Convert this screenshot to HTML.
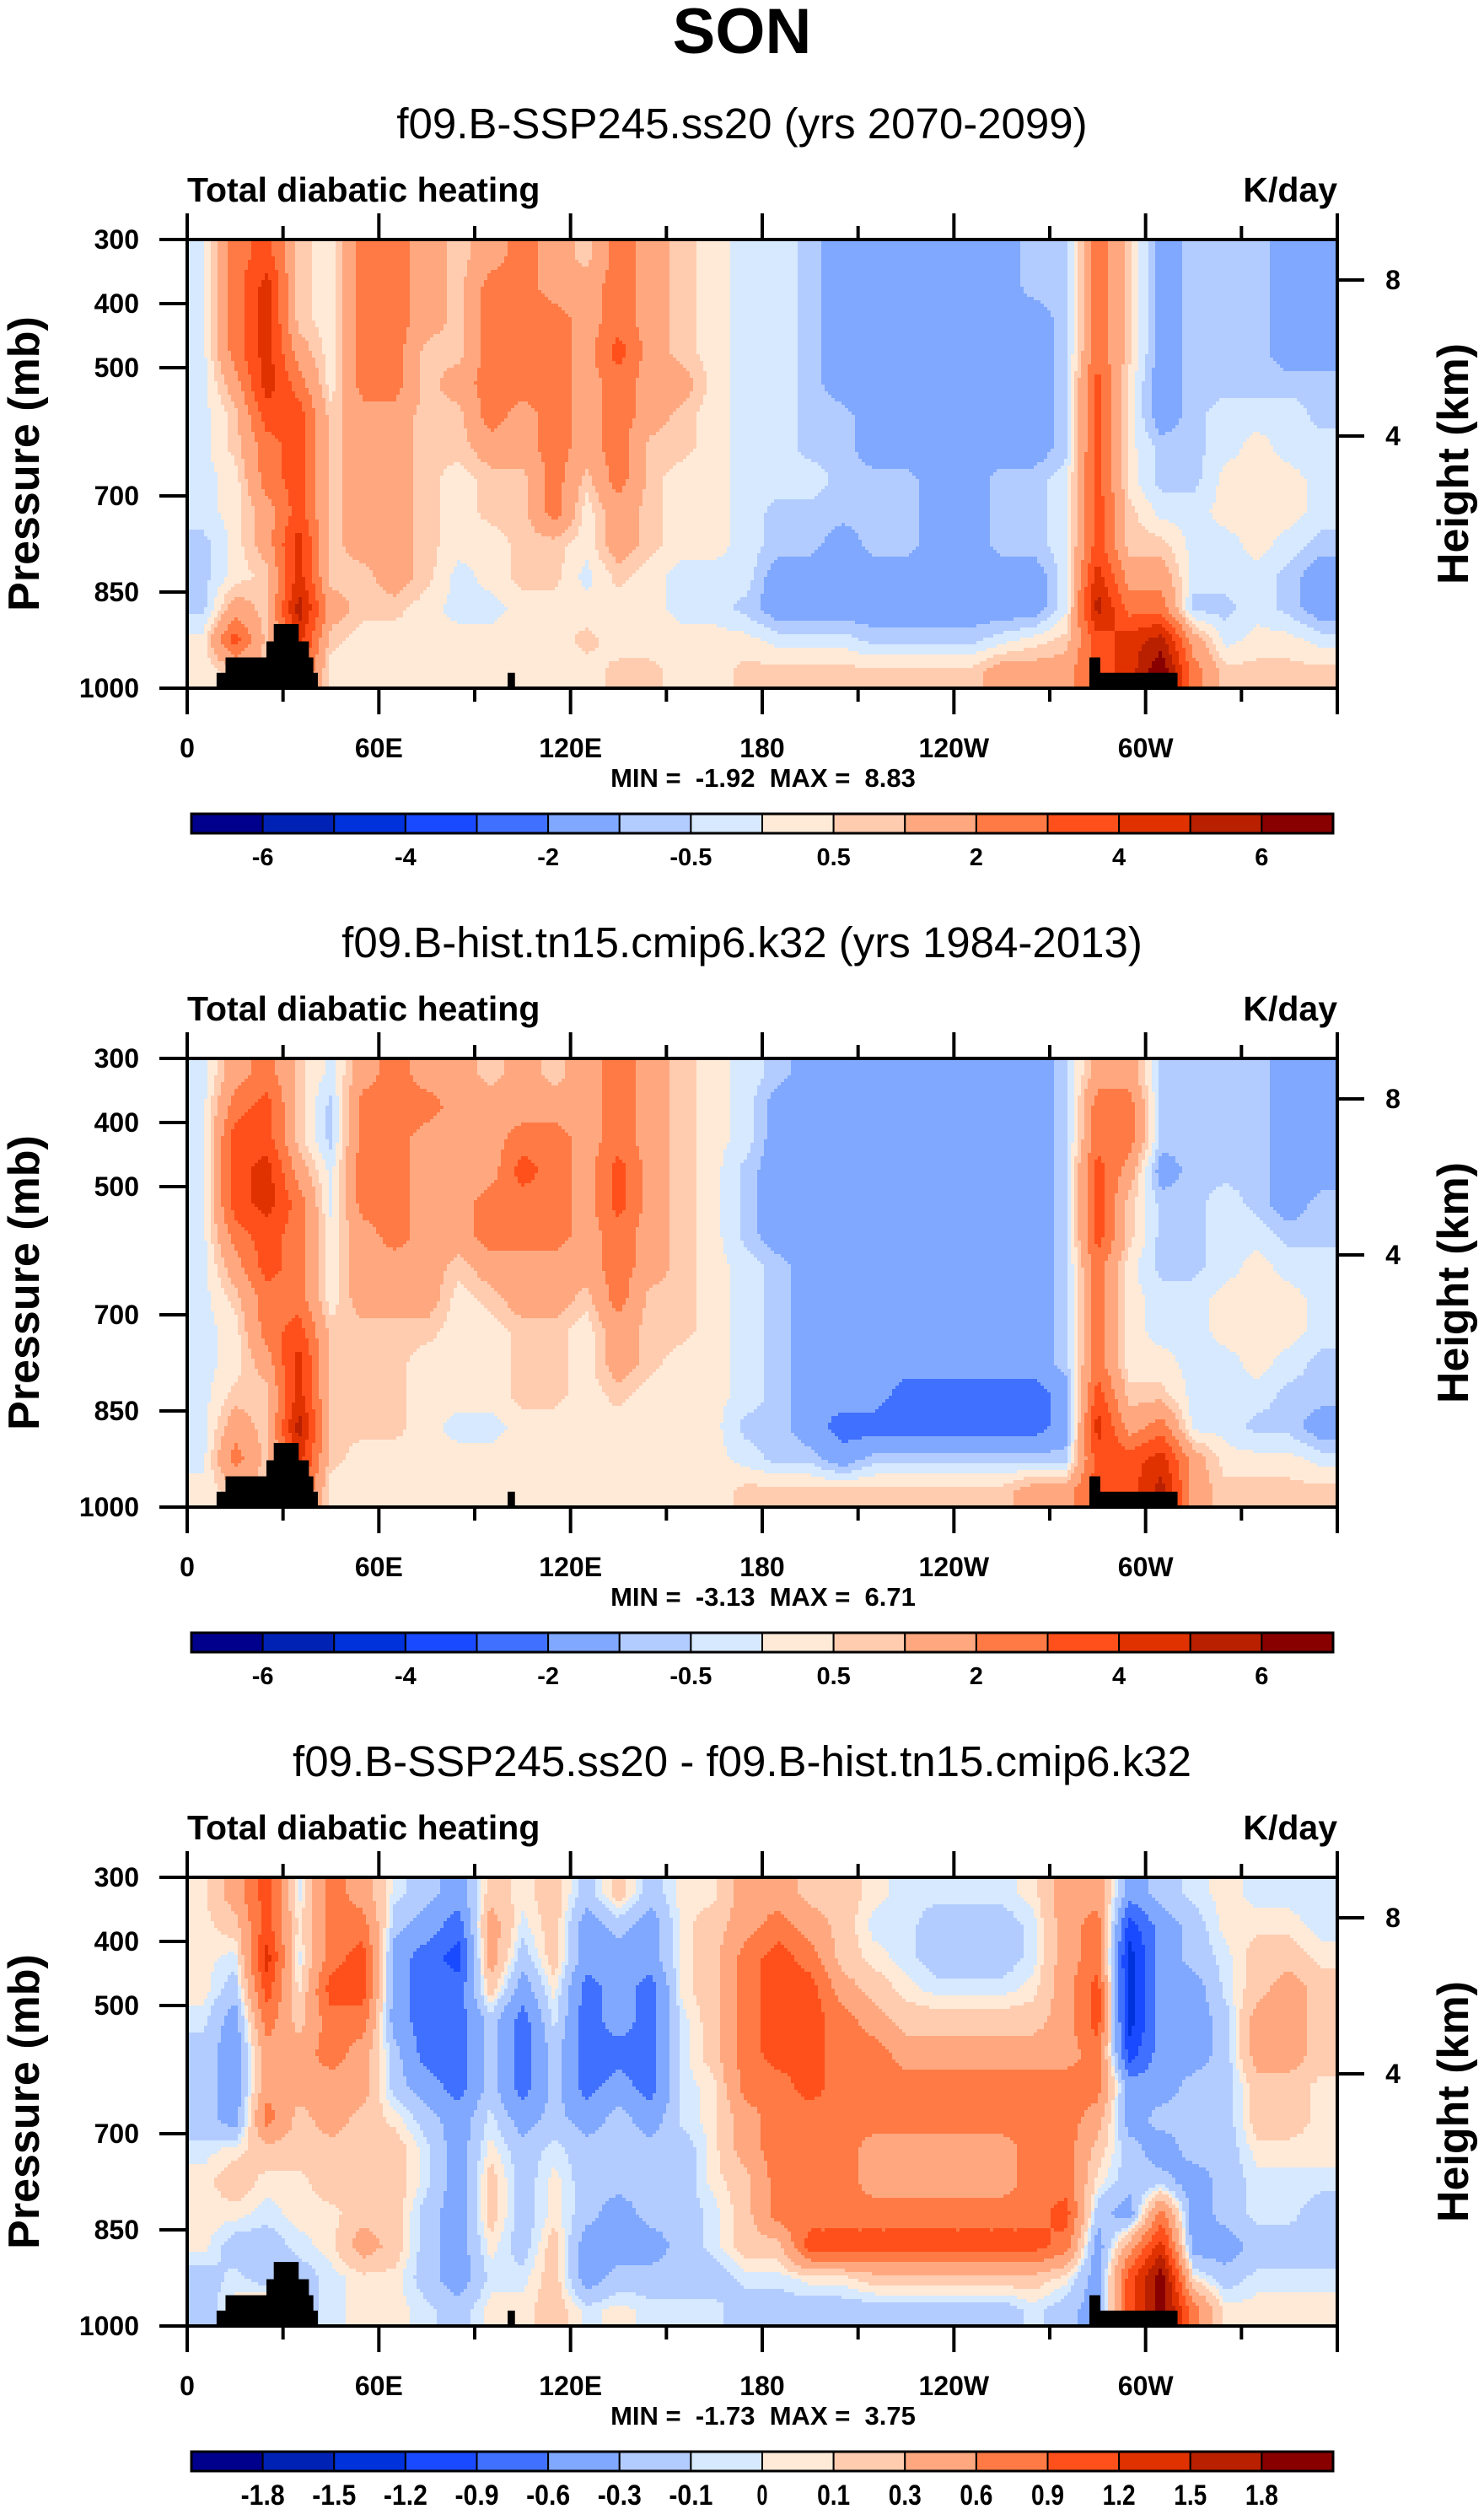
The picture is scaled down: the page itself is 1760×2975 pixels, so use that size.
<!DOCTYPE html>
<html><head><meta charset="utf-8">
<style>
html,body{margin:0;padding:0;background:#fff;}
svg{display:block;font-family:"Liberation Sans",sans-serif;}
.b{font-weight:bold;}
</style></head>
<body>
<svg id="fig" width="1760" height="2975" viewBox="0 0 1760 2975" xmlns="http://www.w3.org/2000/svg">
<rect x="0" y="0" width="1760" height="2975" fill="#fff"/>
<text x="880" y="63" text-anchor="middle" class="b" font-size="76">SON</text>
<g id="panels"></g>
</svg>
<script>
const lonCenters=[5,15,25,35,45,55,65,75,85,95,105,115,125,135,145,155,165,175,185,195,205,215,225,235,245,255,265,275,285,295,305,315,325,335,345,355];
const pressureLevels=[325,375,425,475,525,575,625,675,725,775,825,875,925,975];
const pressureTicks=[300,400,500,700,850,1000];
const heightTicks=[4,8];
const lonTicks=[0,60,120,180,240,300];
const lonTickLabels=["0","60E","120E","180","120W","60W"];
const levelsAbs=[-6,-5,-4,-3,-2,-1,-0.5,0,0.5,1,2,3,4,5,6];
const labelsAbs=["-6","-4","-2","-0.5","0.5","2","4","6"];
const levelsDiff=[-1.8,-1.5,-1.2,-0.9,-0.6,-0.3,-0.1,0,0.1,0.3,0.6,0.9,1.2,1.5,1.8];
const labelsDiff=["-1.8","-1.5","-1.2","-0.9","-0.6","-0.3","-0.1","0","0.1","0.3","0.6","0.9","1.2","1.5","1.8"];
const palette=["#00008c","#0022b4","#0032dc","#1a4aff","#4070ff","#80a8ff","#b3ccff","#d6e9ff","#ffead8","#ffccb0","#ffa880","#ff7a45","#ff501b","#e03200","#b82000","#880000"];
const topoLon0=[9.2,12,24.8,27.1,100.3,282.4,282.4];
const topoLon1=[40.9,39.5,38.1,34.9,102.6,310,285.8];
const topoPtop=[976,952,927,900,976,976,952];
const minMaxText=["MIN =  -1.92  MAX =  8.83","MIN =  -3.13  MAX =  6.71","MIN =  -1.73  MAX =  3.75"];
const subtitles=["f09.B-SSP245.ss20 (yrs 2070-2099)","f09.B-hist.tn15.cmip6.k32 (yrs 1984-2013)","f09.B-SSP245.ss20 - f09.B-hist.tn15.cmip6.k32"];

const heatingSSP245=[
[-0.2,-0.2,-0.2,-0.2,-0.2,-0.2,-0.2,-0.2,-0.2,-0.7,-0.7,-0.7,0.2,0.2],
[2.5,2.5,2.5,2.5,1.5,0.7,0.7,0.2,0.2,0.2,0.2,1.5,3.5,0.7],
[3.5,4.5,4.5,4.5,4.5,3.5,2.5,2.5,1.5,1.5,0.7,0.7,0.7,0.7],
[0.7,0.7,0.7,1.5,2.5,3.5,3.5,3.5,3.5,4.5,4.5,5.5,4.5,3.5],
[0.2,0.2,0.2,0.2,0.2,0.7,0.7,0.7,0.7,0.7,0.7,1.5,0.7,0.2],
[2.5,2.5,2.5,2.5,2.5,1.5,1.5,1.5,1.5,1.5,0.7,0.7,0.2,0.2],
[2.5,2.5,2.5,2.5,2.5,1.5,1.5,1.5,1.5,1.5,1.5,0.7,0.2,0.2],
[1.5,1.5,1.5,0.7,0.7,0.7,0.7,0.7,0.7,0.7,0.7,0.2,0.2,0.2],
[0.7,0.7,0.7,0.7,1.5,0.7,0.7,0.2,0.2,0.2,-0.2,-0.2,0.2,0.2],
[1.5,2.5,2.5,2.5,2.5,2.5,1.5,0.7,0.7,0.2,0.2,-0.2,0.2,0.2],
[2.5,2.5,2.5,2.5,2.5,1.5,1.5,0.7,0.7,0.7,0.7,0.2,0.2,0.2],
[1.5,1.5,2.5,2.5,2.5,2.5,2.5,2.5,2.5,0.7,0.7,0.2,0.2,0.2],
[0.7,1.5,1.5,1.5,1.5,1.5,1.5,0.7,0.2,0.2,-0.2,0.2,0.7,0.2],
[2.5,2.5,2.5,3.5,2.5,2.5,2.5,2.5,1.5,1.5,0.7,0.2,0.2,0.7],
[1.5,1.5,1.5,1.5,1.5,1.5,0.7,0.7,0.7,0.7,0.2,0.2,0.2,0.7],
[0.7,0.7,0.7,0.7,1.5,0.7,0.7,0.2,0.2,0.2,-0.2,-0.2,0.2,0.2],
[0.2,0.2,0.2,0.2,0.2,0.2,0.2,0.2,0.2,0.2,-0.2,-0.2,0.2,0.2],
[-0.2,-0.2,-0.2,-0.2,-0.2,-0.2,-0.2,-0.2,-0.2,-0.2,-0.2,-0.7,0.2,0.7],
[-0.2,-0.2,-0.2,-0.2,-0.2,-0.2,-0.2,-0.2,-0.7,-0.7,-1.5,-1.5,-0.2,0.7],
[-0.7,-0.7,-0.7,-0.7,-0.7,-0.7,-0.7,-0.2,-0.7,-0.7,-1.5,-1.5,-0.2,0.7],
[-1.5,-1.5,-1.5,-1.5,-1.5,-0.7,-0.7,-0.7,-0.7,-1.5,-1.5,-1.5,-0.2,0.7],
[-1.5,-1.5,-1.5,-1.5,-1.5,-1.5,-1.5,-0.7,-0.7,-0.7,-1.5,-1.5,-0.7,0.7],
[-1.5,-1.5,-1.5,-1.5,-1.5,-1.5,-1.5,-0.7,-0.7,-0.7,-1.5,-1.5,-0.7,0.7],
[-1.5,-1.5,-1.5,-1.5,-1.5,-1.5,-1.5,-1.5,-1.5,-1.5,-1.5,-1.5,-0.7,0.7],
[-1.5,-1.5,-1.5,-1.5,-1.5,-1.5,-1.5,-1.5,-1.5,-1.5,-1.5,-1.5,-0.7,0.7],
[-1.5,-1.5,-1.5,-1.5,-1.5,-1.5,-1.5,-0.7,-0.7,-0.7,-1.5,-1.5,-0.2,1.5],
[-0.7,-0.7,-1.5,-1.5,-1.5,-1.5,-1.5,-0.7,-0.7,-0.7,-1.5,-1.5,0.2,1.5],
[-0.7,-0.7,-0.7,-0.7,-0.7,-0.7,-0.7,-0.2,-0.2,-0.2,-0.2,-0.2,0.7,1.5],
[2.5,2.5,2.5,2.5,3.5,3.5,3.5,3.5,3.5,3.5,4.5,5.5,3.5,3.5],
[0.7,0.7,0.7,0.7,0.2,0.2,0.2,0.2,0.7,0.7,1.5,2.5,4.5,4.5],
[-1.5,-1.5,-1.5,-1.5,-1.5,-1.5,-0.7,-0.7,-0.2,0.7,1.5,2.5,5.5,7],
[-0.7,-0.7,-0.7,-0.7,-0.7,-0.7,-0.7,-0.7,-0.2,-0.2,-0.2,-0.7,1.5,2.5],
[-0.7,-0.7,-0.7,-0.7,-0.7,-0.2,-0.2,0.2,0.2,-0.2,-0.2,-0.7,-0.2,0.7],
[-0.7,-0.7,-0.7,-0.7,-0.7,-0.2,0.2,0.2,0.2,0.2,-0.2,-0.2,0.2,0.7],
[-1.5,-1.5,-1.5,-1.5,-0.7,-0.2,-0.2,0.2,0.2,-0.2,-0.7,-0.7,0.2,0.7],
[-1.5,-1.5,-1.5,-1.5,-0.7,-0.7,-0.2,-0.2,-0.2,-0.7,-1.5,-1.5,-0.2,0.7]];

const heatingHist=[
[-0.2,-0.2,-0.2,-0.2,-0.2,-0.2,-0.2,-0.2,-0.2,-0.2,-0.2,-0.2,-0.2,0.2],
[1.5,2.5,3.5,3.5,3.5,2.5,1.5,0.7,0.2,0.2,0.7,1.5,2.5,0.7],
[2.5,3.5,3.5,4.5,4.5,3.5,3.5,2.5,2.5,1.5,0.7,0.7,0.7,0.7],
[0.7,0.7,0.7,1.5,2.5,2.5,2.5,2.5,3.5,4.5,4.5,5.5,4.5,3.5],
[-0.2,-0.7,-0.7,-0.2,-0.2,0.2,0.2,0.2,0.7,0.7,0.7,0.7,0.7,0.2],
[1.5,2.5,2.5,2.5,2.5,1.5,1.5,1.5,0.7,0.7,0.7,0.7,0.2,0.2],
[2.5,2.5,2.5,2.5,2.5,2.5,1.5,1.5,0.7,0.7,0.7,0.7,0.2,0.2],
[1.5,2.5,1.5,1.5,1.5,1.5,1.5,1.5,0.7,0.2,0.2,0.2,0.2,0.2],
[1.5,1.5,1.5,1.5,1.5,1.5,0.7,0.2,0.2,0.2,0.2,-0.2,0.2,0.2],
[0.7,1.5,1.5,1.5,2.5,2.5,1.5,0.7,0.2,0.2,0.2,-0.2,0.2,0.2],
[1.5,1.5,2.5,3.5,2.5,2.5,1.5,1.5,0.7,0.7,0.7,0.2,0.2,0.2],
[0.7,1.5,2.5,2.5,2.5,2.5,1.5,1.5,0.7,0.7,0.7,0.2,0.2,0.2],
[1.5,1.5,1.5,1.5,1.5,1.5,1.5,0.7,0.2,0.2,0.2,0.2,0.2,0.2],
[2.5,2.5,2.5,3.5,3.5,2.5,2.5,2.5,1.5,1.5,0.7,0.2,0.2,0.2],
[1.5,1.5,1.5,1.5,1.5,1.5,1.5,0.7,0.7,0.7,0.2,0.2,0.2,0.2],
[0.7,0.7,0.7,0.7,0.7,0.7,0.7,0.7,0.7,0.2,0.2,0.2,0.2,0.2],
[0.2,0.2,0.2,0.2,0.2,0.2,0.2,0.2,0.2,0.2,0.2,0.2,0.2,0.2],
[-0.2,-0.2,-0.2,-0.7,-0.7,-0.7,-0.2,-0.2,-0.2,-0.2,-0.2,-0.7,-0.2,0.7],
[-0.7,-1.5,-1.5,-1.5,-1.5,-1.5,-0.7,-0.7,-0.7,-0.7,-0.7,-0.7,-0.7,0.7],
[-1.5,-1.5,-1.5,-1.5,-1.5,-1.5,-1.5,-1.5,-1.5,-1.5,-1.5,-1.5,-0.7,0.7],
[-1.5,-1.5,-1.5,-1.5,-1.5,-1.5,-1.5,-1.5,-1.5,-1.5,-1.5,-2.5,-1.5,0.7],
[-1.5,-1.5,-1.5,-1.5,-1.5,-1.5,-1.5,-1.5,-1.5,-1.5,-1.5,-2.5,-0.7,0.7],
[-1.5,-1.5,-1.5,-1.5,-1.5,-1.5,-1.5,-1.5,-1.5,-1.5,-2.5,-2.5,-0.7,0.7],
[-1.5,-1.5,-1.5,-1.5,-1.5,-1.5,-1.5,-1.5,-1.5,-1.5,-2.5,-2.5,-0.7,0.7],
[-1.5,-1.5,-1.5,-1.5,-1.5,-1.5,-1.5,-1.5,-1.5,-1.5,-2.5,-2.5,-0.7,0.7],
[-1.5,-1.5,-1.5,-1.5,-1.5,-1.5,-1.5,-1.5,-1.5,-1.5,-2.5,-2.5,-0.7,0.7],
[-1.5,-1.5,-1.5,-1.5,-1.5,-1.5,-1.5,-1.5,-1.5,-1.5,-2.5,-2.5,-0.7,1.5],
[-0.7,-0.7,-0.7,-0.7,-0.7,-0.7,-0.7,-0.7,-0.7,-0.7,-1.5,-1.5,-0.7,1.5],
[1.5,2.5,2.5,3.5,3.5,3.5,2.5,2.5,2.5,2.5,3.5,4.5,3.5,3.5],
[1.5,2.5,2.5,1.5,0.7,0.7,0.2,0.2,0.2,0.2,0.7,1.5,3.5,3.5],
[-0.7,-0.7,-0.7,-1.5,-0.7,-0.7,-0.7,-0.2,-0.2,0.2,0.7,2.5,4.5,5.5],
[-0.7,-0.7,-0.7,-0.7,-0.7,-0.7,-0.7,-0.2,-0.2,-0.2,-0.2,-0.2,1.5,1.5],
[-0.7,-0.7,-0.7,-0.7,-0.2,-0.2,-0.2,0.2,0.2,-0.2,-0.2,-0.2,0.2,0.7],
[-0.7,-0.7,-0.7,-0.7,-0.7,-0.2,0.2,0.2,0.2,0.2,-0.2,-0.7,0.2,0.7],
[-1.5,-1.5,-1.5,-1.5,-1.5,-0.7,-0.2,0.2,0.2,-0.2,-0.7,-0.7,0.2,0.7],
[-1.5,-1.5,-1.5,-1.5,-0.7,-0.7,-0.2,-0.2,-0.2,-0.7,-0.7,-1.5,-0.2,0.7]];

const heatingDiff=[
[0.05,0.05,0.05,0.05,-0.05,-0.2,-0.2,-0.2,-0.05,0.05,0.05,0.05,-0.2,-0.2],
[0.45,0.2,-0.05,-0.2,-0.45,-0.45,-0.45,-0.45,0.05,0.2,0.05,-0.2,-0.05,0.05],
[1.05,1.05,1.35,1.05,0.75,0.45,0.45,0.75,0.2,0.05,-0.05,-0.2,-0.2,0.2],
[-0.05,0.05,-0.05,0.05,0.2,0.45,0.45,0.2,0.2,0.05,0.05,-0.05,-0.2,-0.2],
[0.75,0.75,0.75,1.05,0.75,0.75,0.45,0.45,0.2,0.2,0.05,0.05,-0.05,-0.05],
[0.45,0.75,1.05,1.05,0.75,0.45,0.45,0.2,0.2,0.2,0.2,0.45,0.05,0.05],
[-0.05,-0.2,-0.45,-0.45,-0.45,-0.2,-0.2,0.05,0.2,0.2,0.2,0.2,0.05,0.05],
[-0.2,-0.45,-0.75,-0.75,-0.75,-0.75,-0.45,-0.2,-0.05,-0.05,-0.2,-0.2,-0.2,-0.05],
[-0.45,-0.75,-1.05,-0.75,-0.75,-0.75,-0.75,-0.45,-0.45,-0.45,-0.45,-0.45,-0.45,-0.2],
[0.2,0.45,0.45,0.2,-0.2,-0.2,-0.2,-0.05,0.05,0.2,0.2,0.05,-0.05,0.05],
[0.05,-0.05,-0.2,-0.45,-0.75,-0.75,-0.75,-0.45,-0.2,-0.2,-0.2,-0.2,-0.05,0.05],
[0.2,0.2,0.2,0.05,-0.05,-0.2,-0.2,-0.2,-0.05,0.05,0.05,0.2,0.2,0.2],
[-0.2,-0.45,-0.45,-0.75,-0.75,-0.75,-0.75,-0.45,-0.2,-0.2,-0.2,-0.45,-0.45,-0.05],
[0.2,-0.2,-0.45,-0.45,-0.45,-0.75,-0.45,-0.2,-0.2,-0.2,-0.45,-0.45,-0.2,0.05],
[-0.2,-0.45,-0.45,-0.75,-0.75,-0.75,-0.75,-0.45,-0.2,-0.2,-0.2,-0.45,-0.2,-0.05],
[0.05,0.05,0.05,0.05,-0.05,-0.05,-0.05,-0.05,-0.2,-0.2,-0.2,-0.2,-0.2,-0.05],
[0.05,0.2,0.2,0.2,0.2,0.2,0.05,0.05,0.05,0.05,-0.05,-0.05,-0.2,-0.05],
[0.45,0.45,0.75,0.75,0.75,0.75,0.75,0.45,0.45,0.2,0.2,0.2,-0.05,-0.2],
[0.45,0.75,1.05,1.05,1.05,1.05,0.75,0.75,0.75,0.75,0.75,0.2,-0.05,-0.2],
[0.2,0.45,0.75,1.05,1.05,1.05,1.05,0.75,0.75,0.75,0.75,1.05,0.05,-0.2],
[0.2,0.2,0.2,0.45,0.75,0.75,0.75,0.75,0.75,0.75,0.75,1.05,0.05,-0.2],
[0.05,-0.05,0.05,0.2,0.45,0.75,0.75,0.75,0.45,0.45,0.75,1.05,0.2,-0.2],
[-0.05,-0.05,-0.05,0.05,0.2,0.45,0.75,0.75,0.45,0.45,0.75,1.05,0.2,-0.2],
[-0.05,-0.2,-0.2,-0.05,0.2,0.45,0.75,0.75,0.45,0.45,0.75,1.05,0.2,-0.2],
[-0.05,-0.2,-0.2,-0.05,0.2,0.45,0.75,0.75,0.45,0.45,0.75,1.05,0.2,-0.2],
[-0.05,-0.2,-0.2,-0.05,0.2,0.45,0.75,0.75,0.45,0.45,0.75,1.05,0.2,-0.2],
[0.05,-0.05,-0.05,0.05,0.2,0.45,0.75,0.75,0.75,0.75,0.75,1.05,0.2,-0.05],
[0.45,0.45,0.45,0.45,0.45,0.45,0.75,0.75,0.75,0.75,1.05,0.75,0.05,-0.2],
[0.45,0.75,0.75,1.05,1.05,0.75,0.75,0.45,0.2,0.05,-0.2,-0.45,-0.45,-0.45],
[-0.45,-1.05,-1.35,-1.35,-1.35,-1.05,-0.45,-0.45,-0.2,-0.2,-0.45,0.45,1.05,1.05],
[-0.2,-0.45,-0.45,-0.45,-0.45,-0.45,-0.45,-0.2,-0.45,-0.2,0.75,1.35,2.0,2.0],
[-0.05,-0.2,-0.2,-0.45,-0.45,-0.45,-0.2,-0.2,-0.2,-0.45,-0.45,-0.45,0.05,0.75],
[0.05,0.05,-0.05,-0.05,-0.2,-0.2,-0.2,-0.2,-0.2,-0.2,-0.2,-0.45,-0.2,0.05],
[-0.05,0.05,0.2,0.2,0.45,0.45,0.2,0.2,0.05,-0.05,-0.05,-0.2,-0.05,0.05],
[-0.05,0.05,0.2,0.45,0.45,0.45,0.2,0.2,0.05,-0.05,-0.05,-0.2,-0.05,0.05],
[-0.05,-0.05,0.05,0.2,0.2,0.2,0.05,0.05,0.05,-0.05,-0.2,-0.2,-0.05,0.05]];

const NS="http://www.w3.org/2000/svg";
const PX0=222, PX1=1586, PW=PX1-PX0, PH=532;
const panelTops=[284,1255,2226];
function mk(tag,attrs,parent,txt){const e=document.createElementNS(NS,tag);for(const k in attrs)e.setAttribute(k,attrs[k]);if(txt!==undefined)e.textContent=txt;parent.appendChild(e);return e;}
function xOf(lon){return PX0+lon/360*PW;}
function yOf(p,top){return top+(p-300)/700*PH;}
function pOfKm(z){return 1013*Math.exp(-z/7.8);}
function sample(data,lon,p){
  let fi=(lon-lonCenters[0])/10; fi=Math.max(0,Math.min(lonCenters.length-1,fi));
  let fj=(p-pressureLevels[0])/50; fj=Math.max(0,Math.min(pressureLevels.length-1,fj));
  const i0=Math.floor(fi),i1=Math.min(i0+1,lonCenters.length-1),ti=fi-i0;
  const j0=Math.floor(fj),j1=Math.min(j0+1,pressureLevels.length-1),tj=fj-j0;
  const a=data[i0][j0]*(1-tj)+data[i0][j1]*tj, b=data[i1][j0]*(1-tj)+data[i1][j1]*tj;
  return a*(1-ti)+b*ti;
}
function classify(v,levels){let c=0;for(const l of levels){if(v>=l)c++;}return c;}

const root=document.getElementById('panels');
const datasets=[heatingSSP245,heatingHist,heatingDiff];
const levelSets=[levelsAbs,levelsAbs,levelsDiff];

for(let k=0;k<3;k++){
  const top=panelTops[k], bot=top+PH, off=971*k;
  const g=mk('g',{},root);
  
  
  const st=mk('text',{x:880,y:164+off,'text-anchor':'middle','font-size':51},g,subtitles[k]);
  
  
  const lt=mk('text',{x:PX0,y:239+off,'font-size':41,'class':'b'},g,'Total diabatic heating');
  
  
  const ut=mk('text',{x:PX1,y:239+off,'font-size':41,'class':'b','text-anchor':'end'},g,'K/day');
  
  

  const field=mk('g',{'shape-rendering':'crispEdges'},g);
  
  
  const step=4, data=datasets[k], levels=levelSets[k];
  for(let py=0;py<PH;py+=step){
    const h=Math.min(step,PH-py), p=300+(py+h/2)/PH*700;
    let rs=0, rc=-1;
    for(let px=0;;px+=step){
      let c=-2;
      const done=px>=PW;
      if(!done){const w=Math.min(step,PW-px);const lon=(px+w/2)/PW*360;c=classify(sample(data,lon,p),levels);}
      if(c!==rc||done){
        if(rc>=0){
          const xe=Math.min(px,PW);
          const r=mk('rect',{x:PX0+rs,y:top+py,width:xe-rs+0.6,height:h+0.6,fill:palette[rc]},field);
          
          
        }
        rs=px; rc=c;
      }
      if(done)break;
    }
  }
  for(let m=0;m<topoLon0.length;m++){
    const yt=yOf(topoPtop[m],top);
    const r=mk('rect',{x:xOf(topoLon0[m]),y:yt,width:xOf(topoLon1[m])-xOf(topoLon0[m]),height:bot-yt,fill:'#000'},g);
    
    
  }
  const frame=mk('rect',{x:PX0,y:top,width:PW,height:PH,fill:'none',stroke:'#000','stroke-width':4},g);
  
  
  for(let lon=0;lon<=360;lon+=30){
    const major=lon%60===0, len=major?31:16, x=xOf(lon);
    const t1=mk('line',{x1:x,y1:top-len,x2:x,y2:top,stroke:'#000','stroke-width':4},g);
    
    
    const t2=mk('line',{x1:x,y1:bot,x2:x,y2:bot+len,stroke:'#000','stroke-width':4},g);
    
    
  }
  lonTicks.forEach((lon,i)=>{
    const t=mk('text',{x:xOf(lon),y:898+off,'text-anchor':'middle','font-size':32,'class':'b'},g,lonTickLabels[i]);
    
    
  });
  pressureTicks.forEach(p=>{
    const y=yOf(p,top);
    const l=mk('line',{x1:PX0-33,y1:y,x2:PX0,y2:y,stroke:'#000','stroke-width':4},g);
    
    
    const t=mk('text',{x:165,y:y+11,'text-anchor':'end','font-size':32,'class':'b'},g,String(p));
    
    
  });
  const yt=mk('text',{transform:'translate(46,'+(550+off)+') rotate(-90)','text-anchor':'middle','font-size':52,'class':'b'},g,'Pressure (mb)');
  
  
  heightTicks.forEach(z=>{
    const y=yOf(pOfKm(z),top);
    const l=mk('line',{x1:PX1,y1:y,x2:PX1+32,y2:y,stroke:'#000','stroke-width':4},g);
    
    
    const t=mk('text',{x:1652,y:y+11,'text-anchor':'middle','font-size':32,'class':'b'},g,String(z));
    
    
  });
  const ht=mk('text',{transform:'translate(1741,'+(550+off)+') rotate(-90)','text-anchor':'middle','font-size':52,'class':'b'},g,'Height (km)');
  
  
  const mm=mk('text',{x:905,y:933+off,'text-anchor':'middle','font-size':31,'class':'b'},g,minMaxText[k]);
  
  
  mm.style.whiteSpace='pre';
  const cb=mk('g',{},g);
  
  
  const cx0=227, cx1=1581, cy=965+off, ch=23, bw=(cx1-cx0)/16;
  palette.forEach((col,i)=>{
    const r=mk('rect',{x:cx0+i*bw,y:cy,width:bw,height:ch,fill:col,stroke:'#000','stroke-width':2},cb);
    
    
  });
  const cf=mk('rect',{x:cx0,y:cy,width:cx1-cx0,height:ch,fill:'none',stroke:'#000','stroke-width':3},cb);
  
  
  if(k<2){
    labelsAbs.forEach((s,i)=>{
      const t=mk('text',{x:cx0+(2*i+1)*bw,y:cy+61,'text-anchor':'middle','font-size':29,'class':'b'},cb,s);
      
      
    });
  } else {
    labelsDiff.forEach((s,i)=>{
      const t=mk('text',{x:cx0+(i+1)*bw,y:cy+63,'text-anchor':'middle','font-size':34,'class':'b','textLength':s.length*13,'lengthAdjust':'spacingAndGlyphs'},cb,s);
      
      
    });
  }
}
</script>
</body></html>
